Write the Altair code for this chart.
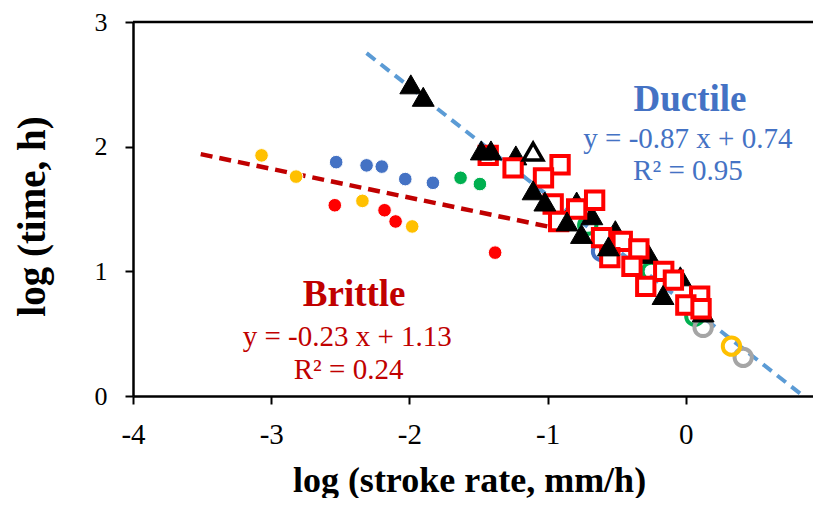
import altair as alt
import pandas as pd

# ---------------- data ----------------
# Brittle regime (small filled circles)
yellow_x = [-3.07, -2.82, -2.34, -1.98]
yellow_y = [1.93, 1.76, 1.565, 1.36]
blue_x = [-2.53, -2.31, -2.20, -2.03, -1.83]
blue_y = [1.876, 1.85, 1.84, 1.74, 1.71]
green_x = [-1.63, -1.49]
green_y = [1.75, 1.70]
red_x = [-2.54, -2.18, -2.10, -1.38]
red_y = [1.53, 1.49, 1.40, 1.15]

# Ductile regime
tri_front_x = [-1.99, -1.90, -1.48, -1.41, -1.105, -1.02, -0.86, -0.755, -0.56, -0.165]
tri_front_y = [2.50, 2.40, 1.97, 1.97, 1.65, 1.56, 1.40, 1.30, 1.20, 0.81]
tri_back_x = [-1.23, -0.79, -0.68, -0.51, -0.27, -0.04, 0.125]
tri_back_y = [1.93, 1.56, 1.45, 1.33, 1.14, 0.96, 0.67]
tri_open_x = [-1.105]
tri_open_y = [1.96]
sq_x = [-1.43, -1.25, -0.91, -1.03, -0.96, -0.92, -0.79, -0.66, -0.61, -0.46,
        -0.34, -0.55, -0.39, -0.16, -0.29, -0.09, 0.10, 0.00, 0.11]
sq_y = [1.93, 1.83, 1.855, 1.75, 1.54, 1.40, 1.50, 1.57, 1.27, 1.24,
        1.18, 1.11, 1.04, 1.00, 0.88, 0.93, 0.80, 0.73, 0.70]
ogreen_x = [-0.71, -0.25, 0.065]
ogreen_y = [1.37, 1.00, 0.64]
ogray_x = [0.125, 0.415]
ogray_y = [0.55, 0.31]
oyellow_x = [0.33]
oyellow_y = [0.40]
oblue_x = [-0.61]
oblue_y = [1.16]

# Trend lines (end points)
ductile_x = [-2.31, 0.85]
ductile_y = [2.75, 0.0]
brittle_x = [-3.51, -1.00]
brittle_y = [1.94, 1.36]

# Annotations
ann_text = ["Ductile", "y = -0.87 x + 0.74", "R² = 0.95",
            "Brittle", "y = -0.23 x + 1.13", "R² = 0.24"]
ann_x = [0.03, 0.015, 0.015, -2.40, -2.45, -2.44]
ann_y = [2.29, 1.99, 1.735, 0.72, 0.40, 0.14]
ann_color = ["#4472C4", "#4472C4", "#4472C4", "#C00000", "#C00000", "#C00000"]
ann_size = [37, 29, 29, 37, 29, 29]
ann_weight = ["bold", "normal", "normal", "bold", "normal", "normal"]

x_ticks = [-4, -3, -2, -1, 0]
y_ticks = [0, 1, 2, 3]

FONT = "Liberation Serif"

X = alt.X("x:Q",
          scale=alt.Scale(domain=[-4, 0.92], nice=False, zero=False),
          axis=alt.Axis(values=x_ticks, labelExpr="'' + datum.value",
                        title="log (stroke rate, mm/h)", grid=False,
                        domainColor="black", domainWidth=2.5,
                        tickColor="black", tickWidth=2, tickSize=8,
                        labelFont=FONT, labelFontSize=29, labelColor="black",
                        labelPadding=16, labelFlush=False,
                        titleFont=FONT, titleFontSize=36, titleFontWeight="bold",
                        titleColor="black", titleY=95, titleX=336,
                        titleBaseline="alphabetic", titleAlign="center"))
Y = alt.Y("y:Q",
          scale=alt.Scale(domain=[0, 3], nice=False, zero=False),
          axis=alt.Axis(values=y_ticks, labelExpr="'' + datum.value",
                        title="log (time, h)", grid=False,
                        domainColor="black", domainWidth=2.5,
                        tickColor="black", tickWidth=2, tickSize=8,
                        labelFont=FONT, labelFontSize=26, labelColor="black",
                        labelPadding=18, labelFlush=False,
                        titleFont=FONT, titleFontSize=39, titleFontWeight="bold",
                        titleColor="black", titleAngle=270, titleX=-89, titleY=194,
                        titleBaseline="alphabetic", titleAlign="center"))


def df(xs, ys):
    return pd.DataFrame({"x": xs, "y": ys})


layers = []
# trend lines
layers.append(alt.Chart(df(brittle_x, brittle_y)).mark_line(
    color="#C00000", strokeWidth=4.5, strokeDash=[12, 7]).encode(x=X, y=Y))
layers.append(alt.Chart(df(ductile_x, ductile_y)).mark_line(
    color="#5B9BD5", strokeWidth=4, strokeDash=[11, 7]).encode(x=X, y=Y))

# filled small circles
for xs, ys, col in [(yellow_x, yellow_y, "#FFC000"), (blue_x, blue_y, "#4472C4"),
                    (green_x, green_y, "#00B050"), (red_x, red_y, "#FF0000")]:
    layers.append(alt.Chart(df(xs, ys)).mark_point(
        shape="circle", filled=True, size=185, color=col, opacity=1,
        stroke="white", strokeWidth=1).encode(x=X, y=Y))

# open circles
for xs, ys, col in [(oblue_x, oblue_y, "#4472C4"), (ogreen_x, ogreen_y, "#00B050"),
                    (ogray_x, ogray_y, "#A5A5A5"), (oyellow_x, oyellow_y, "#FFC000")]:
    layers.append(alt.Chart(df(xs, ys)).mark_point(
        shape="circle", filled=False, size=300, color=col, opacity=1,
        strokeWidth=4).encode(x=X, y=Y))

# triangles behind squares
layers.append(alt.Chart(df(tri_back_x, tri_back_y)).mark_point(
    shape="triangle-up", filled=True, size=480, color="black", opacity=1,
    stroke="black", strokeWidth=1).encode(x=X, y=Y))

# red open squares
layers.append(alt.Chart(df(sq_x, sq_y)).mark_point(
    shape="square", filled=True, size=300, fill="white", stroke="#FF0000",
    strokeWidth=4, opacity=1, fillOpacity=1).encode(x=X, y=Y))

# triangles in front
layers.append(alt.Chart(df(tri_front_x, tri_front_y)).mark_point(
    shape="triangle-up", filled=True, size=480, color="black", opacity=1,
    stroke="black", strokeWidth=1).encode(x=X, y=Y))
layers.append(alt.Chart(df(tri_open_x, tri_open_y)).mark_point(
    shape="triangle-up", filled=True, size=380, fill="white", stroke="black",
    strokeWidth=3.5, opacity=1, fillOpacity=1).encode(x=X, y=Y))

# annotations
ann = pd.DataFrame({"t": ann_text, "x": ann_x, "y": ann_y, "c": ann_color,
                    "s": ann_size, "w": ann_weight})
for w in ["bold", "normal"]:
    sub = ann[ann["w"] == w]
    layers.append(alt.Chart(sub).mark_text(
        font=FONT, fontWeight=w, align="center", baseline="alphabetic").encode(
        x=X, y=Y, text="t:N",
        color=alt.Color("c:N", scale=None),
        size=alt.Size("s:Q", scale=None)))

# top frame line
layers.append(alt.Chart(pd.DataFrame({"y": [3]})).mark_rule(
    color="black", strokeWidth=2.5).encode(y=Y))

chart = alt.layer(*layers).properties(
    width=680, height=374,
    autosize=alt.AutoSizeParams(type="none"),
    padding={"left": 125, "top": 14, "right": 0, "bottom": 102},
).configure_view(stroke=None)

chart.save("out.html", embed_options={"renderer": "svg", "actions": False})
